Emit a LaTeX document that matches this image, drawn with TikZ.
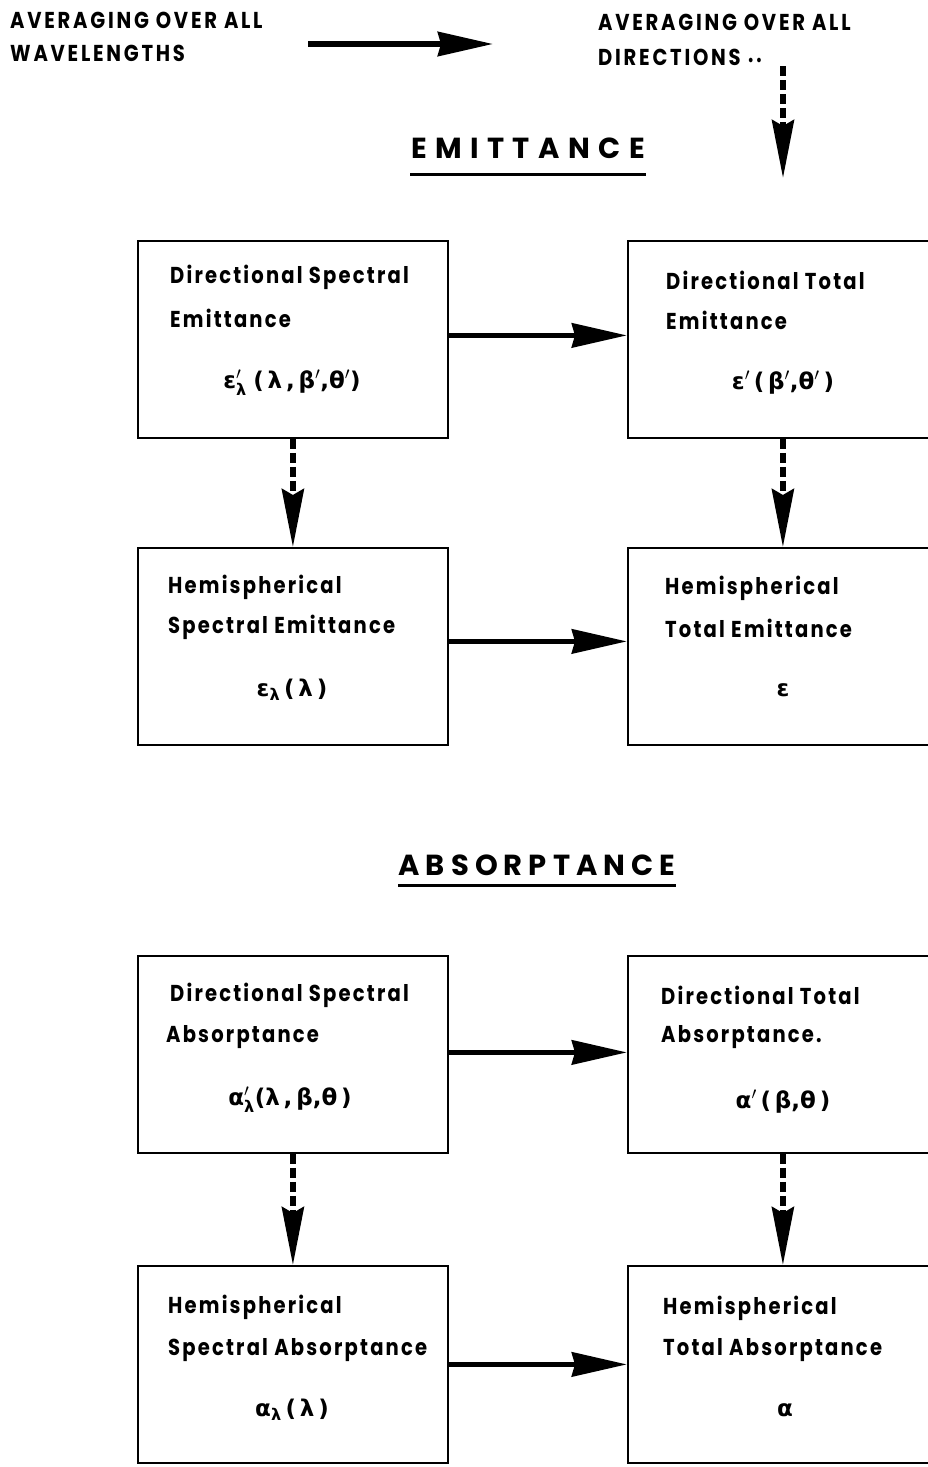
\documentclass[tikz,border=0pt]{standalone}
\usepackage{fontspec}
\usepackage{amsmath}
\usetikzlibrary{arrows.meta,calc}
\setmainfont{Poppins}
\newfontfamily\boxfont[FakeStretch=0.85,LetterSpace=9.5]{Poppins}
\newfontfamily\headfont[FakeStretch=0.85,LetterSpace=12]{Poppins}
\newfontfamily\titlefontA[LetterSpace=29]{Poppins}
\newfontfamily\titlefontB[LetterSpace=21]{Poppins}
\newfontfamily\gr{DejaVu Sans}
\tikzset{
  box/.style={draw, line width=1.8pt, minimum width=310pt, minimum height=197pt, inner sep=0pt, anchor=north west},
  lbl/.style={anchor=west, inner sep=0pt, font=\boxfont\bfseries\fontsize{23}{26}\selectfont},
  frm/.style={anchor=center, inner sep=0pt, font=\gr\bfseries\fontsize{23}{27}\selectfont},
  head/.style={anchor=west, inner sep=0pt, font=\headfont\bfseries\fontsize{23}{26}\selectfont},
  ttlA/.style={anchor=center, inner sep=0pt, font=\titlefontA\bfseries\fontsize{29}{34}\selectfont},
  ttlB/.style={anchor=center, inner sep=0pt, font=\titlefontB\bfseries\fontsize{29}{34}\selectfont},
  solidarrow/.style={line width=5.5pt, -{Stealth[length=55pt,width=24pt,inset=3pt]}},
  dasharrow/.style={line width=5.5pt, dash pattern=on 10pt off 4pt, -{Stealth[length=58pt,width=22pt,inset=6pt]}},
}
\begin{document}
\begin{tikzpicture}[x=1pt,y=-1pt]
\useasboundingbox (0,0) rectangle (928,1467);
% header
\node[head] (h1) at (10,20) {AVERAGING OVER ALL};
\node[head] (h2) at (10,53) {WAVELENGTHS};
\node[head] (h3) at (598,22) {AVERAGING OVER ALL};
\node[head] (h4) at (598,57) {DIRECTIONS {\fontsize{15}{15}\selectfont ••}};
\coordinate (wa) at (308,44);
\coordinate (wb) at (493,44);
\draw[solidarrow] (wa) -- (wb);
\coordinate (da) at (783,66);
\coordinate (db) at (783,178);
\draw[dasharrow] (da) -- (db);
% titles
\node[ttlA] (t1) at (528,148) {EMITTANCE};
\draw[line width=3pt] (410,174) -- (646,174);
\node[ttlB] (t2) at (537,865) {ABSORPTANCE};
\draw[line width=3pt] (398,885) -- (676,885);
% boxes
\node[box] (L1) at (137,240) {};
\node[box] (R1) at (627,240) {};
\node[box] (L2) at (137,547) {};
\node[box] (R2) at (627,547) {};
\node[box] (L3) at (137,955) {};
\node[box] (R3) at (627,955) {};
\node[box] (L4) at (137,1265) {};
\node[box] (R4) at (627,1265) {};
% texts
\node[lbl] (l1a) at (170,277) {Directional Spectral};
\node[lbl] (l1b) at (170,318) {Emittance};
\node[frm] (l1c) at (292,383) {ε$'_{\text{\gr\bfseries λ}}$\;(\,λ\,,\,β$'$,θ$'$)};
\node[lbl] (r1a) at (666,280) {Directional Total};
\node[lbl] (r1b) at (666,320) {Emittance};
\node[frm] (r1c) at (783,383) {ε$'$\,(\,β$'$,θ$'$\,)};
\node[lbl] (l2a) at (168,587) {Hemispherical};
\node[lbl] (l2b) at (168,627) {Spectral Emittance};
\node[frm] (l2c) at (292,690) {ε$_{\text{\gr\bfseries λ}}$\,(\,λ\,)};
\node[lbl] (r2a) at (665,588) {Hemispherical};
\node[lbl] (r2b) at (665,628) {Total Emittance};
\node[frm] (r2c) at (783,690) {ε};
\node[lbl] (l3a) at (170,995) {Directional Spectral};
\node[lbl] (l3b) at (166,1037) {Absorptance};
\node[frm] (l3c) at (290,1100) {α$'_{\text{\gr\bfseries λ}}$(λ\,,\,β,θ\,)};
\node[lbl] (r3a) at (661,995) {Directional Total};
\node[lbl] (r3b) at (661,1037) {Absorptance.};
\node[frm] (r3c) at (783,1102) {α$'$\,(\,β,θ\,)};
\node[lbl] (l4a) at (168,1307) {Hemispherical};
\node[lbl] (l4b) at (168,1350) {Spectral Absorptance};
\node[frm] (l4c) at (292,1410) {α$_{\text{\gr\bfseries λ}}$\,(\,λ\,)};
\node[lbl] (r4a) at (663,1308) {Hemispherical};
\node[lbl] (r4b) at (663,1350) {Total Absorptance};
\node[frm] (r4c) at (785,1410) {α};
% connectors
\draw[solidarrow] ([yshift=4pt]L1.east) -- ([yshift=4pt]R1.west);
\draw[solidarrow] ([yshift=5pt]L2.east) -- ([yshift=5pt]R2.west);
\draw[solidarrow] ([yshift=2pt]L3.east) -- ([yshift=2pt]R3.west);
\draw[solidarrow] (L4.east) -- (R4.west);
\draw[dasharrow] (L1.south) -- (L2.north);
\draw[dasharrow] (R1.south) -- (R2.north);
\draw[dasharrow] (L3.south) -- (L4.north);
\draw[dasharrow] (R3.south) -- (R4.north);
\end{tikzpicture}
\end{document}
